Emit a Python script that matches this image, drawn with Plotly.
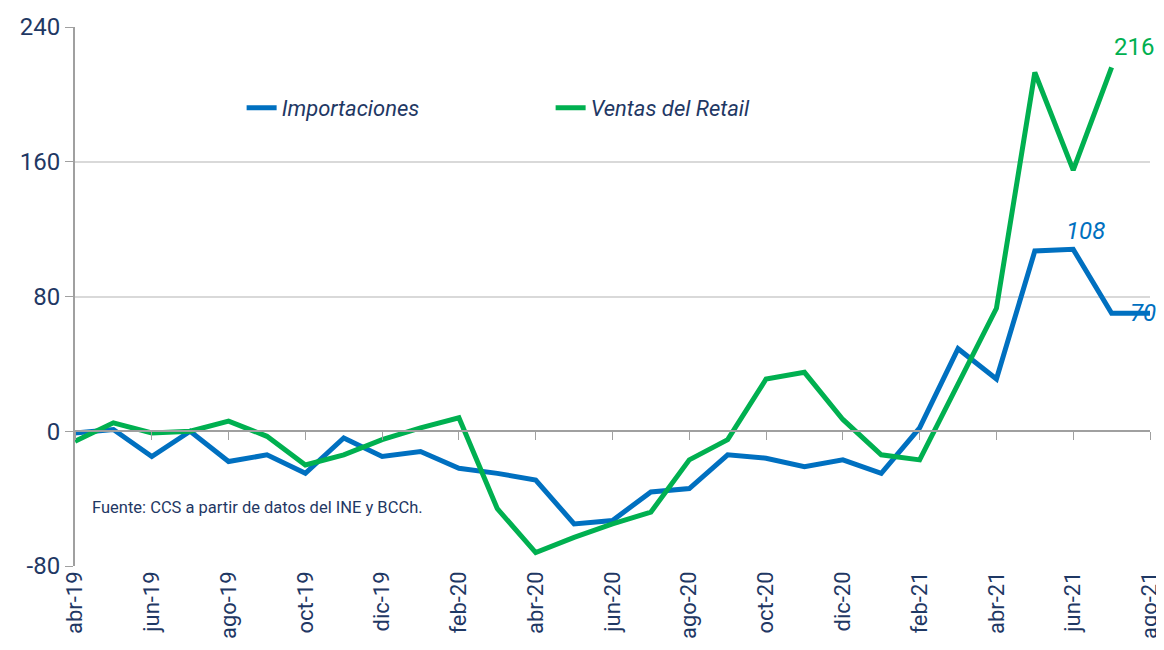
import plotly.graph_objects as go

# months (abr-19 .. ago-21)
months = ["abr-19", "may-19", "jun-19", "jul-19", "ago-19", "sep-19", "oct-19",
          "nov-19", "dic-19", "ene-20", "feb-20", "mar-20", "abr-20", "may-20",
          "jun-20", "jul-20", "ago-20", "sep-20", "oct-20", "nov-20", "dic-20",
          "ene-21", "feb-21", "mar-21", "abr-21", "may-21", "jun-21", "jul-21",
          "ago-21"]

importaciones = [-1, 1, -15, 0, -18, -14, -25, -4, -15, -12, -22, -25, -29, -55,
                 -53, -36, -34, -14, -16, -21, -17, -25, 2, 49, 31, 107, 108, 70, 70]

ventas_retail = [-6, 5, -1, 0, 6, -3, -20, -14, -5, 2, 8, -46, -72, -63,
                 -55, -48, -17, -5, 31, 35, 7, -14, -17, 28, 73, 213, 155, 216, None]

y_ticks = [-80, 0, 80, 160, 240]
y_labels = ["-80", "0", "80", "160", "240"]

BLUE = "#0070C0"
GREEN = "#00B050"
NAVY = "#1F3864"
FONT = "Roboto, sans-serif"

fig = go.Figure()
fig.add_trace(go.Scatter(x=months, y=importaciones, name="Importaciones", mode="lines",
                         line=dict(color=BLUE, width=5)))
fig.add_trace(go.Scatter(x=months, y=ventas_retail, name="Ventas del Retail", mode="lines",
                         line=dict(color=GREEN, width=5)))
# invisible trace so the zero-line axis gets drawn
fig.add_trace(go.Scatter(x=months, y=[0] * len(months), xaxis="x2", mode="lines",
                         line=dict(width=0), showlegend=False, hoverinfo="skip"))

fig.add_annotation(x="jul-21", y=216, text="216", showarrow=False, xshift=22, yshift=20,
                   font=dict(family=FONT, size=24, color=GREEN))
fig.add_annotation(x="jun-21", y=108, text="108", showarrow=False, xshift=12, yshift=18,
                   font=dict(family=FONT, size=24, color=BLUE, style="italic"))
fig.add_annotation(x="ago-21", y=70, text="70", showarrow=False, xshift=-7, yshift=0,
                   font=dict(family=FONT, size=24, color=BLUE, style="italic"))
fig.add_annotation(xref="paper", yref="paper", x=0.014, y=0.108, xanchor="left", yanchor="middle",
                   text="Fuente: CCS a partir de datos del INE y BCCh.", showarrow=False,
                   font=dict(family=FONT, size=16.5, color=NAVY))

# page body has an 8px margin, so the figure is 8px smaller and margins are shifted
fig.update_layout(
    width=1156, height=642,
    margin=dict(l=67, r=14, t=19, b=84),
    plot_bgcolor="white", paper_bgcolor="white",
    font=dict(family=FONT, color=NAVY),
    showlegend=True,
    legend=dict(orientation="h", x=0.155, y=0.85, xanchor="left", yanchor="middle",
                bgcolor="rgba(0,0,0,0)", entrywidth=264, entrywidthmode="pixels",
                font=dict(family=FONT, size=22, color=NAVY, style="italic")),
    xaxis=dict(type="category", categoryorder="array", categoryarray=months,
               range=[0, len(months) - 1], tickmode="linear", tick0=0, dtick=2,
               tickangle=-90, ticks="", showgrid=False, showline=False, zeroline=False,
               automargin=False, tickfont=dict(family=FONT, size=22, color=NAVY)),
    xaxis2=dict(type="category", categoryorder="array", categoryarray=months,
                overlaying="x", anchor="free", position=0.25, side="bottom",
                range=[0, len(months) - 1], tickmode="linear", tick0=0, dtick=2,
                showticklabels=False, ticks="outside", ticklen=8, tickcolor="#A0A0A0",
                showline=True, linecolor="#A0A0A0", linewidth=2, showgrid=False,
                zeroline=False, automargin=False),
    yaxis=dict(range=[-80, 240], tickvals=y_ticks, ticktext=y_labels, showgrid=True,
               gridcolor="#D9D9D9", gridwidth=1.5, zeroline=False, showline=True,
               linecolor="#A0A0A0", linewidth=2, ticks="outside", ticklen=8,
               tickcolor="#A0A0A0", automargin=False,
               tickfont=dict(family=FONT, size=24, color=NAVY)),
)

fig.write_html("out.html")
